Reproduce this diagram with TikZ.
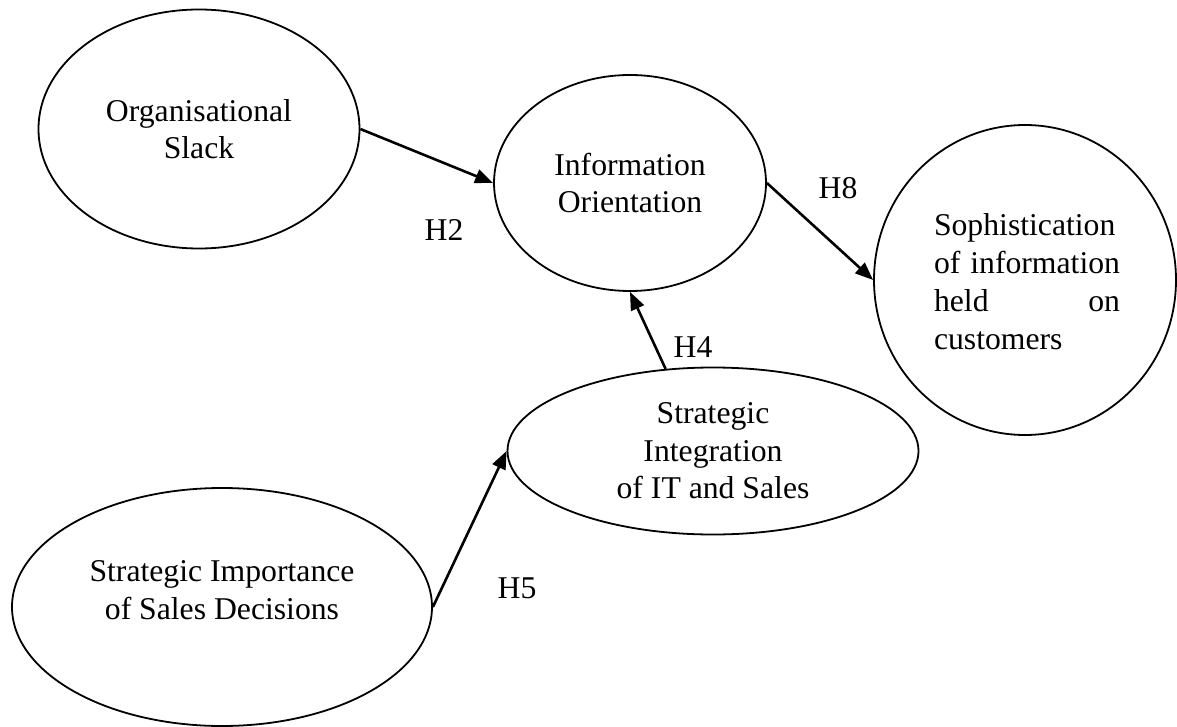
\documentclass[tikz,border=0pt]{standalone}
\usepackage{fontspec}
\setmainfont{Liberation Serif}
\usetikzlibrary{shapes.geometric,arrows.meta}
\tikzset{
  bub/.style={ellipse, draw=black, line width=1.8pt, inner sep=0pt, align=center,
    font=\fontsize{31.7pt}{37.5pt}\selectfont},
  txt/.style={inner sep=0pt, align=center, font=\fontsize{31.7pt}{37.5pt}\selectfont},
  hyp/.style={inner sep=0pt, font=\fontsize{31.7pt}{37.5pt}\selectfont},
  link/.style={line width=2.6pt, -{Triangle[length=18pt,width=14pt]}}
}
\begin{document}
\begin{tikzpicture}[x=1pt,y=-1pt]
\useasboundingbox (0,0) rectangle (1177,727);
\node[bub, minimum width=321pt, minimum height=239pt] (os) at (199,129) {Organisational\\Slack};
\node[bub, minimum width=272pt, minimum height=216pt] (io) at (630,183) {Information\\Orientation};
\node[bub, minimum width=302pt, minimum height=310pt] (so) at (1025,280) {};
\node[txt] (sot) at (1027,282) {\parbox{186pt}{\fontsize{31.7pt}{38pt}\selectfont\hbadness=10000 Sophistication\linebreak of information\linebreak held on\linebreak customers}};
\node[bub, minimum width=411pt, minimum height=167pt] (si) at (713,451) {Strategic\\Integration\\of IT and Sales};
\node[bub, minimum width=420pt, minimum height=238pt] (sd) at (222,607) {};
\node[txt] (sdt) at (222,590) {Strategic Importance\\of Sales Decisions};
\node[hyp] (h2) at (444,230) {H2};
\node[hyp] (h8) at (838,188) {H8};
\node[hyp] (h4) at (693,347) {H4};
\node[hyp] (h5) at (517,588) {H5};
\draw[link] (os.east) -- (io.west);
\draw[link] (io.east) -- (so.west);
\draw[link] (si.120) -- (io.south);
\draw[link] (sd.east) -- (si.west);
\end{tikzpicture}
\end{document}
